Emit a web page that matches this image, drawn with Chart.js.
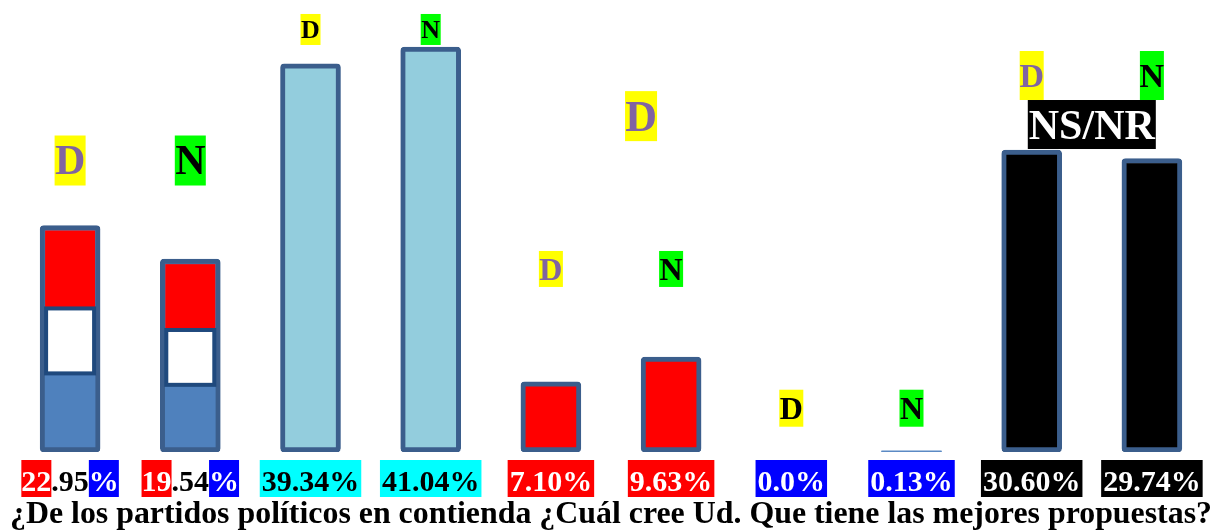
<!DOCTYPE html>
<html>
<head>
<meta charset="utf-8">
<title>Mejores propuestas</title>
<script src="https://cdn.jsdelivr.net/npm/chart.js@4.4.1/dist/chart.umd.min.js"></script>
<style>
  html, body { margin: 0; padding: 0; background: #fff; }
  #wrap { width: 1217px; height: 531px; position: relative; }
</style>
</head>
<body>
<div id="wrap"><canvas id="propuestasChart"></canvas></div>
<script>
// D / N pairs for each option
const categories = ['D', 'N', 'D', 'N', 'D', 'N', 'D', 'N', 'D', 'N'];
const values = [22.95, 19.54, 39.34, 41.04, 7.10, 9.63, 0.0, 0.13, 30.60, 29.74];
const valueLabels = ['22.95%', '19.54%', '39.34%', '41.04%', '7.10%', '9.63%', '0.0%', '0.13%', '30.60%', '29.74%'];
const groupNote = 'NS/NR';
const chartTitle = '¿De los partidos políticos en contienda ¿Cuál cree Ud. Que tiene las mejores propuestas?';

// styles
const barFill = ['#4f81bd', '#4f81bd', '#93cddd', '#93cddd', '#ff0000', '#ff0000', 'rgba(0,0,0,0)', '#5b8ac4', '#000000', '#000000'];
const barBorder = [5, 5, 5, 5, 5, 5, 0, 0, 5, 5];
const labelBg = ['split', 'split', '#00ffff', '#00ffff', '#ff0000', '#ff0000', '#0000ff', '#0000ff', '#000000', '#000000'];
const labelFg = ['#000', '#000', '#000', '#000', '#fff', '#fff', '#fff', '#fff', '#fff', '#fff'];
const FONT = '"Liberation Serif", "Times New Roman", serif';

// marker boxes above each pair: letter size, box size, gap above the taller bar
const pairMarkers = [
  { size: 42, w: 31, h: 50, gap: 40, dColor: '#8064a2' },
  { size: 26, w: 20, h: 31, gap: 2, dColor: '#000' },
  { size: 32, w: 24, h: 36, gap: 70, dColor: '#8064a2' },
  { size: 32, w: 24, h: 37, gap: 24, dColor: '#000' },
  { size: 34, w: 24, h: 49, gap: 50, dColor: '#8064a2' }
];

function box(ctx, text, cx, bottom, w, h, bg, fg, size) {
  ctx.fillStyle = bg;
  ctx.fillRect(cx - w / 2, bottom - h, w, h);
  ctx.font = 'bold ' + size + 'px ' + FONT;
  ctx.fillStyle = fg;
  ctx.textAlign = 'center';
  ctx.textBaseline = 'alphabetic';
  ctx.fillText(text, cx, bottom - (h - size * 0.66) / 2);
}

const decorPlugin = {
  id: 'decor',
  afterDatasetsDraw(chart) {
    const ctx = chart.ctx;
    const bars = chart.getDatasetMeta(0).data;
    ctx.save();

    // red / white / blue bars
    [0, 1].forEach(i => {
      const p = bars[i].getProps(['x', 'y', 'base', 'width'], true);
      const bw = barBorder[i];
      const left = p.x - p.width / 2 + bw, right = p.x + p.width / 2 - bw;
      const top = p.y + bw, bottom = p.base - bw;
      const h = bottom - top;
      const s1 = top + h * 0.36, s2 = top + h * 0.66;
      ctx.fillStyle = '#ff0000';
      ctx.fillRect(left, top, right - left, s1 - top);
      ctx.fillStyle = '#ffffff';
      ctx.fillRect(left, s1, right - left, s2 - s1);
      ctx.strokeStyle = '#1f497d';
      ctx.lineWidth = 4;
      ctx.strokeRect(left + 1, s1, right - left - 2, s2 - s1);
    });

    // D / N markers
    pairMarkers.forEach((m, k) => {
      const a = bars[2 * k], b = bars[2 * k + 1];
      let top = Math.min(a.y, b.y);
      if (k === 4) {
        // NS/NR plate sits between the two bars
        ctx.font = 'bold 42px ' + FONT;
        const tw = ctx.measureText(groupNote).width + 2;
        const cx = (a.x + b.x) / 2;
        ctx.fillStyle = '#000';
        ctx.fillRect(cx - tw / 2, top - 50, tw, 49);
        ctx.fillStyle = '#fff';
        ctx.textAlign = 'center';
        ctx.textBaseline = 'alphabetic';
        ctx.fillText(groupNote, cx, top - 11);
      }
      top -= m.gap;
      box(ctx, categories[2 * k], a.x, top, m.w, m.h, '#ffff00', m.dColor, m.size);
      box(ctx, categories[2 * k + 1], b.x, top, m.w, m.h, '#00ff00', '#000', m.size);
    });

    // stray big D between the red bars
    const sx = chart.scales.x.getPixelForValue(4.75);
    const sy = chart.scales.y.getPixelForValue(31.5);
    box(ctx, 'D', sx, sy, 32, 50, '#ffff00', '#8064a2', 44);

    // value labels under the bars
    ctx.font = 'bold 30px ' + FONT;
    ctx.textAlign = 'left';
    ctx.textBaseline = 'alphabetic';
    const base = chart.chartArea.bottom;
    bars.forEach((bar, i) => {
      const txt = valueLabels[i];
      let parts;
      if (labelBg[i] === 'split') {
        const dot = txt.indexOf('.');
        parts = [
          [txt.slice(0, dot), '#ff0000', '#fff'],
          [txt.slice(dot, txt.length - 1), null, '#000'],
          ['%', '#0000ff', '#fff']
        ];
      } else {
        parts = [[txt, labelBg[i], labelFg[i]]];
      }
      const pad = parts.length === 1 ? 4 : 0;
      const total = parts.reduce((s, q) => s + ctx.measureText(q[0]).width, 0) + pad;
      let x = bar.x - total / 2;
      parts.forEach(q => {
        const w = ctx.measureText(q[0]).width + pad;
        if (q[1]) {
          ctx.fillStyle = q[1];
          ctx.fillRect(x, base + 8, w, 37);
        }
        ctx.fillStyle = q[2];
        ctx.fillText(q[0], x + pad / 2, base + 39);
        x += w;
      });
    });

    ctx.restore();
  }
};

new Chart(document.getElementById('propuestasChart'), {
  type: 'bar',
  data: {
    labels: categories,
    datasets: [{
      data: values,
      backgroundColor: barFill,
      borderColor: '#3b5e8c',
      borderWidth: barBorder,
      borderRadius: 4,
      borderSkipped: false,
      barThickness: 60
    }]
  },
  options: {
    responsive: true,
    maintainAspectRatio: false,
    animation: false,
    layout: { padding: { left: 10, right: 5, top: 0, bottom: 0 } },
    scales: {
      x: { display: false },
      y: { display: false, min: 0, max: 45.8 }
    },
    plugins: {
      legend: { display: false },
      tooltip: { enabled: false },
      title: {
        display: true,
        position: 'bottom',
        text: chartTitle,
        color: '#000',
        font: { family: FONT, size: 32, weight: 'bold', lineHeight: 1 },
        padding: { top: 47, bottom: 0 }
      }
    }
  },
  plugins: [decorPlugin]
});
</script>
</body>
</html>
